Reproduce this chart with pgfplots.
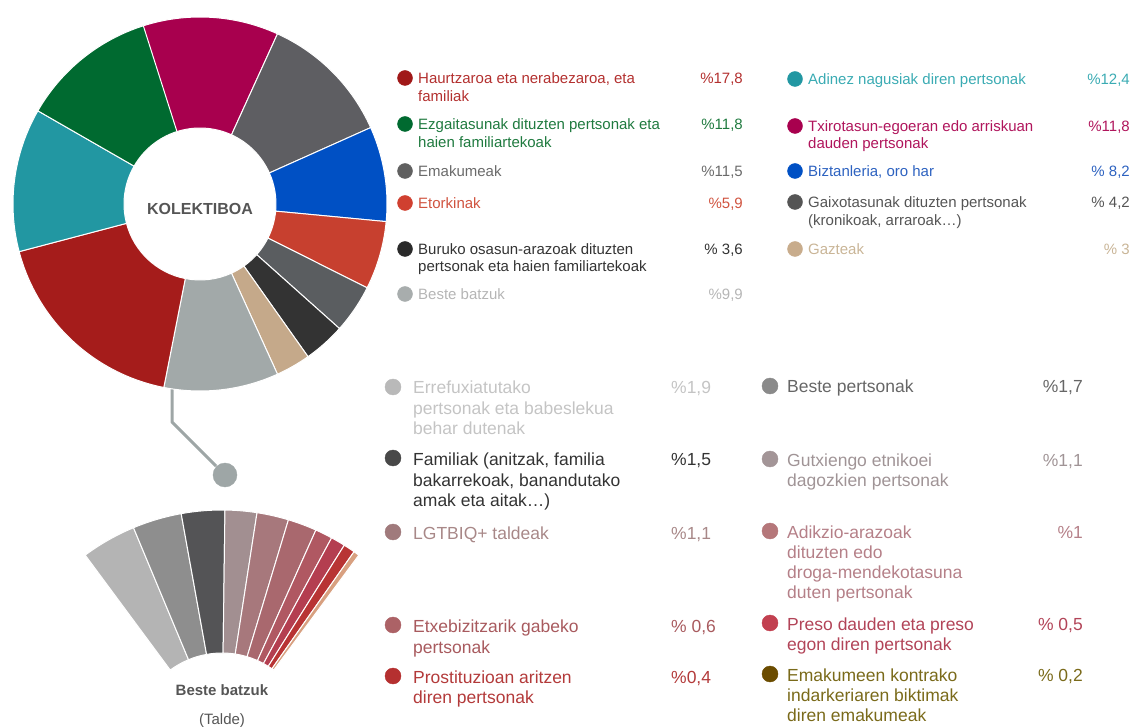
\documentclass[border=0pt]{standalone}
\usepackage{fontspec}
\setmainfont{Liberation Sans}
\usepackage{pgfplots}
\usepackage{pgfplotstable}
\pgfplotsset{compat=1.18}
\usetikzlibrary{calc}

% slice colours
\definecolor{cMag}{HTML}{A8004E}
\definecolor{cGrayA}{HTML}{5E5E62}
\definecolor{cBlue}{HTML}{0050C4}
\definecolor{cOrange}{HTML}{C7402F}
\definecolor{cGrayB}{HTML}{5A5D60}
\definecolor{cBlack}{HTML}{333333}
\definecolor{cTan}{HTML}{C5A98A}
\definecolor{cLight}{HTML}{A2A9A9}
\definecolor{cRed}{HTML}{A51C1B}
\definecolor{cTeal}{HTML}{2297A2}
\definecolor{cGreen}{HTML}{006A30}
\definecolor{cConn}{HTML}{9EA6A6}
% fan colours
\definecolor{fA}{HTML}{B4B4B4}
\definecolor{fB}{HTML}{8E8E8E}
\definecolor{fC}{HTML}{545456}
\definecolor{fD}{HTML}{A28F91}
\definecolor{fE}{HTML}{A7787C}
\definecolor{fF}{HTML}{A9686E}
\definecolor{fG}{HTML}{B05862}
\definecolor{fH}{HTML}{B43E50}
\definecolor{fI}{HTML}{B83434}
\definecolor{fJ}{HTML}{D8A080}
% text colours
\definecolor{tHaur}{HTML}{B3302F}
\definecolor{tEzg}{HTML}{1F7A3F}
\definecolor{tEma}{HTML}{6A6A6A}
\definecolor{tEto}{HTML}{D0533F}
\definecolor{tBur}{HTML}{333333}
\definecolor{tBes}{HTML}{B5B5B5}
\definecolor{tAdi}{HTML}{3AABB3}
\definecolor{tTxi}{HTML}{B0155C}
\definecolor{tBiz}{HTML}{2D62C0}
\definecolor{tGai}{HTML}{555555}
\definecolor{tGaz}{HTML}{C9B597}
\definecolor{tErr}{HTML}{C4C4C4}
\definecolor{tFam}{HTML}{333333}
\definecolor{tLGT}{HTML}{A88888}
\definecolor{tEtx}{HTML}{A85A5E}
\definecolor{tPro}{HTML}{B33A3A}
\definecolor{tBpe}{HTML}{666666}
\definecolor{tGut}{HTML}{A09496}
\definecolor{tAdk}{HTML}{B58088}
\definecolor{tPre}{HTML}{B24458}
\definecolor{tEmk}{HTML}{7A6A1A}
% dot colours
\definecolor{dHaur}{HTML}{A01818}
\definecolor{dEma}{HTML}{606060}
\definecolor{dEto}{HTML}{D04030}
\definecolor{dBur}{HTML}{2A2A2A}
\definecolor{dBes}{HTML}{A8ADAD}
\definecolor{dGai}{HTML}{555555}
\definecolor{dGaz}{HTML}{C8AC8C}
\definecolor{dErr}{HTML}{B9B9B9}
\definecolor{dFam}{HTML}{484848}
\definecolor{dLGT}{HTML}{A07A7C}
\definecolor{dEtx}{HTML}{AC6266}
\definecolor{dPro}{HTML}{B53030}
\definecolor{dBpe}{HTML}{8A8A8A}
\definecolor{dGut}{HTML}{A39597}
\definecolor{dAdk}{HTML}{B5777A}
\definecolor{dPre}{HTML}{C24050}
\definecolor{dEmk}{HTML}{6B4C00}
\definecolor{cLab}{HTML}{555555}

\pgfplotstableread{
val col
11.8 cMag
11.5 cGrayA
8.2 cBlue
5.9 cOrange
4.2 cGrayB
3.6 cBlack
3.0 cTan
9.9 cLight
17.8 cRed
12.4 cTeal
11.8 cGreen
}\maintable

\pgfplotstableread{
val col
1.9 fA
1.7 fB
1.5 fC
1.1 fD
1.1 fE
1.0 fF
0.6 fG
0.5 fH
0.4 fI
0.2 fJ
}\subtable

% #1 table, #2 cx, #3 cy, #4 Rout, #5 Rin, #6 start angle, #7 degrees per unit
\newcommand\drawring[7]{%
  \pgfplotstablegetrowsof{#1}%
  \pgfmathtruncatemacro\nlast{\pgfplotsretval-1}%
  \def\curang{#6}%
  \pgfplotsforeachungrouped \ii in {0,...,\nlast}{%
    \pgfplotstablegetelem{\ii}{val}\of{#1}\let\sV\pgfplotsretval
    \pgfplotstablegetelem{\ii}{col}\of{#1}\let\sC\pgfplotsretval
    \pgfmathsetmacro\sA{\curang}%
    \pgfmathsetmacro\sB{\curang-\sV*#7}%
    \edef\temp{\noexpand\fill[fill=\sC, draw=white, line width=1pt, line join=round]
      ($(axis cs:#2,#3)+(\sA:#4pt)$) arc[start angle=\sA, end angle=\sB, radius=#4pt]
      -- ($(axis cs:#2,#3)+(\sB:#5pt)$) arc[start angle=\sB, end angle=\sA, radius=#5pt] -- cycle;}%
    \temp
    \let\curang\sB
  }%
}

\newcommand\ldot[4]{\addplot[only marks, mark=*, mark size=#4pt, color=#3] coordinates {(#1,#2)};}
\newcommand\up[4]{\node[anchor=base west, text=#3, inner sep=0pt, font=\fontsize{15}{18}\selectfont] at (axis cs:#1,#2) {#4};}
\newcommand\upv[4]{\node[anchor=base east, text=#3, inner sep=0pt, font=\fontsize{15}{18}\selectfont] at (axis cs:#1,#2) {#4};}
\newcommand\lo[4]{\node[anchor=base west, text=#3, inner sep=0pt, font=\fontsize{17.5}{20.5}\selectfont] at (axis cs:#1,#2) {#4};}
\newcommand\lov[4]{\node[anchor=base east, text=#3, inner sep=0pt, font=\fontsize{17.5}{20.5}\selectfont] at (axis cs:#1,#2) {#4};}

\begin{document}
\begin{tikzpicture}
\useasboundingbox (0,0) rectangle (1136pt,727pt);
\begin{axis}[
  at={(0,0)}, anchor=south west,
  x=1pt, y=1pt, y dir=reverse,
  xmin=0, xmax=1136, ymin=0, ymax=727,
  hide axis, clip=false, scale only axis,
]
% connector
\addplot[draw=cConn, line width=3pt, line join=round] coordinates {(172,380) (172,422) (216,466)};
\addplot[only marks, mark=*, mark size=12pt, color=cConn] coordinates {(225,475)};

% main donut
\drawring{\maintable}{200}{204}{187}{76}{108}{3.6}
\node[font=\bfseries\fontsize{16}{16}\selectfont, text=cLab] at (axis cs:200,209) {KOLEKTIBOA};

% fan
\drawring{\subtable}{222}{740}{230}{87}{126.5}{7.3}
\node[font=\bfseries\fontsize{15}{15}\selectfont, text=cLab] at (axis cs:222,690) {Beste batzuk};
\node[font=\fontsize{15}{15}\selectfont, text=cLab] at (axis cs:222,721) {(Talde)};

% upper legend, left column
\ldot{405}{78}{dHaur}{7.5}
\up{418}{84}{tHaur}{Haurtzaroa eta nerabezaroa, eta}
\up{418}{102}{tHaur}{familiak}
\upv{743}{84}{tHaur}{\%17,8}
\ldot{405}{124}{cGreen}{7.5}
\up{418}{130}{tEzg}{Ezgaitasunak dituzten pertsonak eta}
\up{418}{148}{tEzg}{haien familiartekoak}
\upv{743}{130}{tEzg}{\%11,8}
\ldot{405}{171}{dEma}{7.5}
\up{418}{177}{tEma}{Emakumeak}
\upv{743}{177}{tEma}{\%11,5}
\ldot{405}{203}{dEto}{7.5}
\up{418}{209}{tEto}{Etorkinak}
\upv{743}{209}{tEto}{\%5,9}
\ldot{405}{249}{dBur}{7.5}
\up{418}{255}{tBur}{Buruko osasun-arazoak dituzten}
\up{418}{272}{tBur}{pertsonak eta haien familiartekoak}
\upv{743}{255}{tBur}{\% 3,6}
\ldot{405}{294}{dBes}{7.5}
\up{418}{300}{tBes}{Beste batzuk}
\upv{743}{300}{tBes}{\%9,9}

% upper legend, right column
\ldot{795}{79}{cTeal}{7.5}
\up{808}{85}{tAdi}{Adinez nagusiak diren pertsonak}
\upv{1130}{85}{tAdi}{\%12,4}
\ldot{795}{126}{cMag}{7.5}
\up{808}{132}{tTxi}{Txirotasun-egoeran edo arriskuan}
\up{808}{149}{tTxi}{dauden pertsonak}
\upv{1130}{132}{tTxi}{\%11,8}
\ldot{795}{171}{cBlue}{7.5}
\up{808}{177}{tBiz}{Biztanleria, oro har}
\upv{1130}{177}{tBiz}{\% 8,2}
\ldot{795}{202}{dGai}{7.5}
\up{808}{208}{tGai}{Gaixotasunak dituzten pertsonak}
\up{808}{226}{tGai}{(kronikoak, arraroak…)}
\upv{1130}{208}{tGai}{\% 4,2}
\ldot{795}{249}{dGaz}{7.5}
\up{808}{255}{tGaz}{Gazteak}
\upv{1130}{255}{tGaz}{\% 3}

% lower legend, left column
\ldot{393}{387}{dErr}{8}
\lo{413}{394}{tErr}{Errefuxiatutako}
\lo{413}{414}{tErr}{pertsonak eta babeslekua}
\lo{413}{435}{tErr}{behar dutenak}
\lo{671}{394}{tErr}{\%1,9}
\ldot{393}{458}{dFam}{8}
\lo{413}{465}{tFam}{Familiak (anitzak, familia}
\lo{413}{486}{tFam}{bakarrekoak, banandutako}
\lo{413}{506}{tFam}{amak eta aitak…)}
\lo{671}{465}{tFam}{\%1,5}
\ldot{393}{532}{dLGT}{8}
\lo{413}{539}{tLGT}{LGTBIQ+ taldeak}
\lo{671}{539}{tLGT}{\%1,1}
\ldot{393}{625}{dEtx}{8}
\lo{413}{632}{tEtx}{Etxebizitzarik gabeko}
\lo{413}{653}{tEtx}{pertsonak}
\lo{671}{632}{tEtx}{\% 0,6}
\ldot{393}{676}{dPro}{8}
\lo{413}{683}{tPro}{Prostituzioan aritzen}
\lo{413}{703}{tPro}{diren pertsonak}
\lo{671}{683}{tPro}{\%0,4}

% lower legend, right column
\ldot{770}{386}{dBpe}{8}
\lo{787}{393}{tBpe}{Beste pertsonak}
\lov{1083}{393}{tBpe}{\%1,7}
\ldot{770}{459}{dGut}{8}
\lo{787}{466}{tGut}{Gutxiengo etnikoei}
\lo{787}{486}{tGut}{dagozkien pertsonak}
\lov{1083}{466}{tGut}{\%1,1}
\ldot{770}{531}{dAdk}{8}
\lo{787}{538}{tAdk}{Adikzio-arazoak}
\lo{787}{558}{tAdk}{dituzten edo}
\lo{787}{578}{tAdk}{droga-mendekotasuna}
\lo{787}{598}{tAdk}{duten pertsonak}
\lov{1083}{538}{tAdk}{\%1}
\ldot{770}{623}{dPre}{8}
\lo{787}{630}{tPre}{Preso dauden eta preso}
\lo{787}{650}{tPre}{egon diren pertsonak}
\lov{1083}{630}{tPre}{\% 0,5}
\ldot{770}{674}{dEmk}{8}
\lo{787}{681}{tEmk}{Emakumeen kontrako}
\lo{787}{701}{tEmk}{indarkeriaren biktimak}
\lo{787}{721}{tEmk}{diren emakumeak}
\lov{1083}{681}{tEmk}{\% 0,2}
\end{axis}
\end{tikzpicture}
\end{document}
